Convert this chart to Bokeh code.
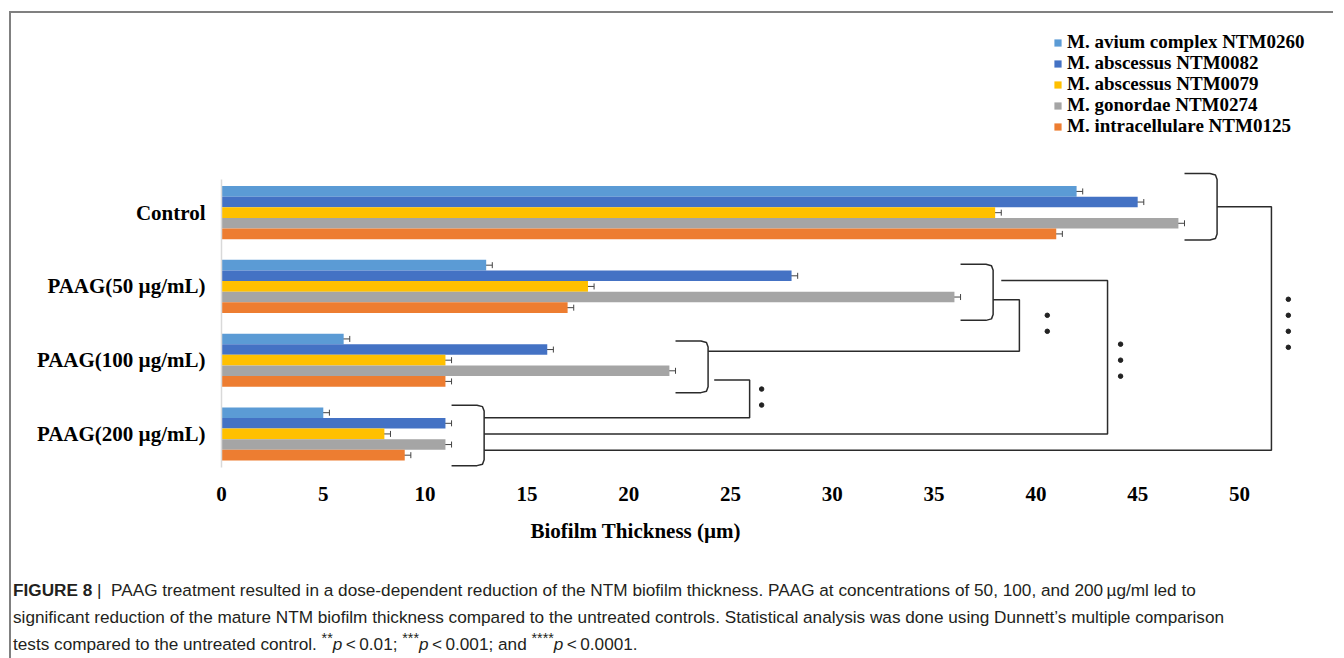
from bokeh.plotting import figure
from bokeh.models import (ColumnDataSource, Range1d, FixedTicker, Whisker, Legend,
                          LegendItem, Div, TeeHead, Title)
from bokeh.transform import dodge
from bokeh.layouts import column
from bokeh.embed import file_html
from bokeh.resources import INLINE

# ---------------- data ----------------
groups = ["Control", "PAAG(50 µg/mL)", "PAAG(100 µg/mL)", "PAAG(200 µg/mL)"]
strains = ["M. avium complex NTM0260", "M. abscessus NTM0082", "M. abscessus NTM0079",
           "M. gonordae NTM0274", "M. intracellulare NTM0125"]
colors = ["#5B9BD5", "#4472C4", "#FFC000", "#A5A5A5", "#ED7D31"]

avium_0260 = [42, 13, 6, 5]
abscessus_0082 = [45, 28, 16, 11]
abscessus_0079 = [38, 18, 11, 8]
gonordae_0274 = [47, 36, 22, 11]
intracellulare_0125 = [41, 17, 11, 9]

err_avium_0260 = [0.3, 0.3, 0.3, 0.3]
err_abscessus_0082 = [0.3, 0.3, 0.3, 0.3]
err_abscessus_0079 = [0.3, 0.3, 0.3, 0.3]
err_gonordae_0274 = [0.3, 0.3, 0.3, 0.3]
err_intracellulare_0125 = [0.3, 0.3, 0.3, 0.3]

x_ticks = [0, 5, 10, 15, 20, 25, 30, 35, 40, 45, 50]
x_title = "Biofilm Thickness (µm)"

# significance comparisons: (group a, group b, stars)
comparisons = [("Control", "PAAG(200 µg/mL)", "****"),
               ("PAAG(50 µg/mL)", "PAAG(200 µg/mL)", "***"),
               ("PAAG(50 µg/mL)", "PAAG(100 µg/mL)", "**"),
               ("PAAG(100 µg/mL)", "PAAG(200 µg/mL)", "**")]

SUP = '<sup style="line-height:0">'
caption_html = (
    "<b>FIGURE 8</b>&nbsp;|&nbsp; PAAG treatment resulted in a dose-dependent reduction of the NTM "
    "biofilm thickness. PAAG at concentrations of 50, 100, and 200&thinsp;µg/ml led to<br>"
    "significant reduction of the mature NTM biofilm thickness compared to the untreated controls. "
    "Statistical analysis was done using Dunnett’s multiple comparison<br>"
    "tests compared to the untreated control. " + SUP + "**</sup><i>p</i>&thinsp;&lt;&thinsp;0.01; "
    + SUP + "***</sup><i>p</i>&thinsp;&lt;&thinsp;0.001; and " + SUP
    + "****</sup><i>p</i>&thinsp;&lt;&thinsp;0.0001."
)

# ---------------- layout constants ----------------
series = [avium_0260, abscessus_0082, abscessus_0079, gonordae_0274, intracellulare_0125]
errors = [err_avium_0260, err_abscessus_0082, err_abscessus_0079, err_gonordae_0274,
          err_intracellulare_0125]
group_pos = [3, 2, 1, 0]
BAR_H = 0.144
offsets = [2 * BAR_H, BAR_H, 0.0, -BAR_H, -2 * BAR_H]

SERIF = "Liberation Serif"
FS = "21px"
LEG_FS = "19px"

p = figure(width=1322, height=542, x_range=Range1d(0, 54.52), y_range=Range1d(-0.55, 5.497),
           output_backend="svg", toolbar_location=None,
           min_border_left=210, min_border_right=2, min_border_top=15, min_border_bottom=81)
p.outline_line_color = None
p.xgrid.visible = False
p.ygrid.visible = False
p.background_fill_color = "white"
p.border_fill_color = "white"

items = []
for j, (name, vals, errs, col) in enumerate(zip(strains, series, errors, colors)):
    src = ColumnDataSource(dict(
        y=group_pos, x=vals, yb=[g + offsets[j] for g in group_pos],
        lo=[v - e for v, e in zip(vals, errs)], hi=[v + e for v, e in zip(vals, errs)]))
    r = p.hbar(y=dodge("y", offsets[j], range=p.y_range), right="x", left=0, height=BAR_H,
               source=src, fill_color=col, line_color=None)
    w = Whisker(base="yb", lower="lo", upper="hi", dimension="width", source=src,
                line_color="#444444", line_width=1,
                lower_head=TeeHead(size=6, line_color="#444444", line_width=1),
                upper_head=TeeHead(size=6, line_color="#444444", line_width=1))
    p.add_layout(w)
    items.append(LegendItem(label=name, renderers=[r]))

# legend rows are set tighter than Bokeh's default line box, so each entry
# gets its own legend box (screen offsets from the frame's bottom-left corner)
LEG_X, LEG_Y0, LEG_STEP = 832, 421, 21.1
for k, it in enumerate(items):
    lg = Legend(items=[it], location=(LEG_X, LEG_Y0 - k * LEG_STEP), label_text_font=SERIF,
                label_text_font_style="bold", label_text_font_size=LEG_FS,
                label_text_color="black", glyph_width=9, glyph_height=9, label_height=20,
                spacing=0, padding=0, margin=0, label_standoff=5, border_line_color=None,
                background_fill_alpha=0)
    p.add_layout(lg)

# ---------- significance brackets ----------
BR_W = 1.6
# (vertical shift, half height) of each group's brace
brace_shape = [(0.08, 0.45), (-0.08, 0.38), (-0.09, 0.35), (-0.02, 0.41)]
brace_left = [max(series[j][i] + errors[j][i] for j in range(len(series)))
              for i in range(len(groups))]
brace_right = [l + BR_W for l in brace_left]

bxs, bys = [], []
for i, gy in enumerate(group_pos):
    L, R = brace_left[i], brace_right[i]
    sh, half = brace_shape[i]
    t, b = gy + sh + half, gy + sh - half
    bxs.append([L, R - 0.35, R - 0.08, R, R, R - 0.08, R - 0.35, L])
    bys.append([t, t, t - 0.02, t - 0.08, b + 0.08, b + 0.02, b, b])

# (lane gap, start dx, start dy, end dy, dot dx)
conn_layout = [(2.67, 0.0, 0.08, -0.22, 0.83),
               (5.62, 0.4, 0.08, 0.0, 0.64),
               (1.29, 0.0, -0.18, 0.12, 1.37),
               (2.04, 0.3, -0.27, 0.22, 0.59)]
dot_x, dot_y = [], []
for (ga, gb, stars), (gap, sdx, sdy, edy, ddx) in zip(comparisons, conn_layout):
    ia, ib = groups.index(ga), groups.index(gb)
    ya, yb = group_pos[ia], group_pos[ib]
    lane = brace_right[ia] + gap
    bxs.append([brace_right[ia] + sdx, lane, lane, brace_right[ib]])
    bys.append([ya + sdy, ya + sdy, yb + edy, yb + edy])
    mid = (ya + yb) / 2
    n = len(stars)
    for k in range(n):
        dot_x.append(lane + ddx)
        dot_y.append(mid + ((n - 1) / 2 - k) * 0.217)

p.multi_line(xs=bxs, ys=bys, line_color="#2b2b2b", line_width=1.5)
p.scatter(x=dot_x, y=dot_y, size=4.5, color="#222222")

# ---------- axes ----------
xa = p.xaxis[0]
xa.ticker = FixedTicker(ticks=x_ticks)
xa.axis_line_color = None
xa.major_tick_line_color = None
xa.minor_tick_line_color = None
xa.major_label_text_font = SERIF
xa.major_label_text_font_style = "bold"
xa.major_label_text_font_size = FS
xa.major_label_text_color = "black"
xa.major_label_standoff = 6

# axis title placed where the original puts it (left of the frame centre)
p.add_layout(Title(text=x_title, align="left", offset=309, text_font=SERIF,
                   text_font_style="bold", text_font_size=FS, text_color="black",
                   standoff=26), "below")

ya_ = p.yaxis[0]
ya_.ticker = FixedTicker(ticks=group_pos)
ya_.major_label_overrides = {gp: g for gp, g in zip(group_pos, groups)}
ya_.bounds = (-0.45, 3.45)
ya_.axis_line_color = "#d9d9d9"
ya_.axis_line_width = 1.5
ya_.major_tick_line_color = None
ya_.minor_tick_line_color = None
ya_.major_label_text_font = SERIF
ya_.major_label_text_font_style = "bold"
ya_.major_label_text_font_size = FS
ya_.major_label_text_color = "black"
ya_.major_label_standoff = 10

caption = Div(text=caption_html, width=1318, height=92, margin=(22, 0, 0, 2),
              styles={"font-family": "'Liberation Sans', Arial, sans-serif",
                      "font-size": "17.2px", "line-height": "27px", "color": "#231f20",
                      "white-space": "nowrap"})

page = column(p, caption, margin=(11, 0, 0, 9),
              styles={"border-left": "2px solid #808080", "border-top": "2px solid #808080"})

open("out.html", "w").write(file_html(page, INLINE))
